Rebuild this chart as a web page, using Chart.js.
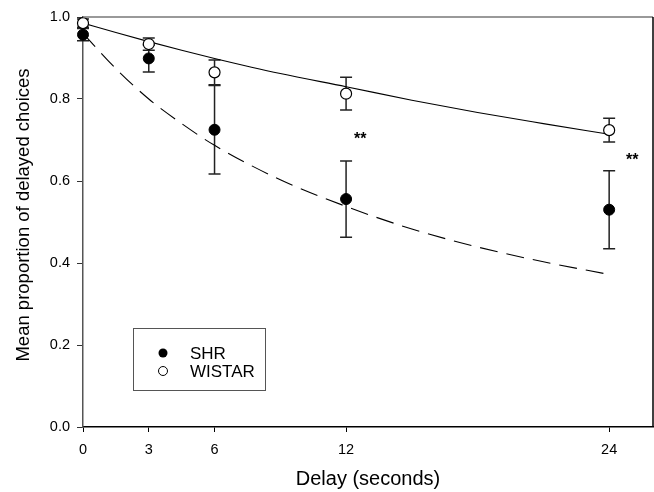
<!DOCTYPE html>
<html>
<head>
<meta charset="utf-8">
<script src="https://cdn.jsdelivr.net/npm/chart.js@4"></script>
<style>
  html, body { margin: 0; padding: 0; background: #fff; }
  #wrap { width: 654px; height: 492px; position: relative; }
</style>
</head>
<body>
<div id="wrap"><canvas id="chart"></canvas></div>
<script>
// --- DATOS ---
const delays = [0, 3, 6, 12, 24];
const shrMean = [0.957, 0.899, 0.725, 0.556, 0.530];
const shrSem = [0.015, 0.033, 0.108, 0.093, 0.095];
const wistarMean = [0.985, 0.934, 0.865, 0.813, 0.724];
const wistarSem = [0.010, 0.015, 0.030, 0.040, 0.029];

// fitted curves
const fitX = [0, 1.5, 3, 4.5, 6, 9, 12, 15, 18, 21, 24];
const shrFit = [0.960, 0.874, 0.800, 0.740, 0.687, 0.603, 0.538, 0.483, 0.439, 0.403, 0.372];
const wistarFit = [0.985, 0.962, 0.940, 0.919, 0.899, 0.862, 0.830, 0.797, 0.767, 0.740, 0.714];

const xTicks = [0, 3, 6, 12, 24];
const yTicks = [0, 0.2, 0.4, 0.6, 0.8, 1.0];

// significance marks
const sigX = [12.65, 25.05];
const sigY = [0.702, 0.649];
const sigText = ['**', '**'];

const legendNames = ['SHR', 'WISTAR'];
const yTitle = 'Mean proportion of delayed choices';

const FONT = '"Liberation Sans", Arial, sans-serif';

const toPts = (xs, ys) => xs.map((v, i) => ({ x: v, y: ys[i] }));

// --- EXTRAS: error bars, frame, asterisks, legend, y title ---
const extras = {
  id: 'extras',
  beforeDatasetsDraw(chart) {
    const { ctx, scales: { x, y } } = chart;
    ctx.save();
    ctx.strokeStyle = '#222';
    ctx.lineWidth = 1.5;
    [[shrMean, shrSem], [wistarMean, wistarSem]].forEach(([m, s]) => {
      delays.forEach((d, i) => {
        const px = x.getPixelForValue(d);
        const top = y.getPixelForValue(m[i] + s[i]);
        const bot = y.getPixelForValue(m[i] - s[i]);
        ctx.beginPath();
        ctx.moveTo(px, top); ctx.lineTo(px, bot);
        ctx.moveTo(px - 6, top); ctx.lineTo(px + 6, top);
        ctx.moveTo(px - 6, bot); ctx.lineTo(px + 6, bot);
        ctx.stroke();
      });
    });
    ctx.restore();
  },
  afterDraw(chart) {
    const { ctx, chartArea: a, scales: { x, y } } = chart;
    ctx.save();
    // top and right frame
    ctx.lineWidth = 1.5;
    ctx.strokeStyle = '#777';
    ctx.beginPath();
    ctx.moveTo(a.left, a.top); ctx.lineTo(a.right, a.top);
    ctx.stroke();
    ctx.strokeStyle = '#000';
    ctx.beginPath();
    ctx.moveTo(a.right, a.top); ctx.lineTo(a.right, a.bottom);
    ctx.stroke();

    // asterisks
    ctx.fillStyle = '#000';
    ctx.font = 'bold 16px ' + FONT;
    ctx.textAlign = 'center';
    ctx.textBaseline = 'middle';
    sigText.forEach((t, i) => {
      ctx.fillText(t, x.getPixelForValue(sigX[i]), y.getPixelForValue(sigY[i]));
    });

    // y title
    ctx.save();
    ctx.translate(24, 215);
    ctx.rotate(-Math.PI / 2);
    ctx.font = '18.5px ' + FONT;
    ctx.fillText(yTitle, 0, 0);
    ctx.restore();

    // legend box
    ctx.strokeStyle = '#555';
    ctx.lineWidth = 1;
    ctx.strokeRect(133.5, 328.5, 132, 62);
    ctx.font = '17px ' + FONT;
    ctx.textAlign = 'left';
    legendNames.forEach((name, i) => {
      const cy = 353 + i * 18;
      ctx.beginPath();
      ctx.arc(163, cy, 4.5, 0, Math.PI * 2);
      if (i === 0) {
        ctx.fillStyle = '#000';
        ctx.fill();
      } else {
        ctx.fillStyle = '#fff';
        ctx.fill();
        ctx.strokeStyle = '#000';
        ctx.lineWidth = 1;
        ctx.stroke();
      }
      ctx.fillStyle = '#000';
      ctx.fillText(name, 190, cy + 1);
    });
    ctx.restore();
  }
};

new Chart(document.getElementById('chart'), {
  type: 'scatter',
  data: {
    datasets: [
      {
        label: 'SHR',
        data: toPts(delays, shrMean),
        backgroundColor: '#000',
        borderColor: '#000',
        borderWidth: 1,
        pointRadius: 5.5,
        clip: false,
        order: 1
      },
      {
        label: 'WISTAR',
        data: toPts(delays, wistarMean),
        backgroundColor: '#fff',
        borderColor: '#000',
        borderWidth: 1.2,
        pointRadius: 5.5,
        clip: false,
        order: 1
      },
      {
        type: 'line',
        label: 'SHR fit',
        data: toPts(fitX, shrFit),
        borderColor: '#000',
        borderWidth: 1.1,
        borderDash: [18, 9],
        pointRadius: 0,
        fill: false,
        cubicInterpolationMode: 'monotone',
        order: 3
      },
      {
        type: 'line',
        label: 'WISTAR fit',
        data: toPts(fitX, wistarFit),
        borderColor: '#000',
        borderWidth: 1.1,
        pointRadius: 0,
        fill: false,
        cubicInterpolationMode: 'monotone',
        order: 3
      }
    ]
  },
  options: {
    responsive: true,
    maintainAspectRatio: false,
    animation: false,
    layout: { autoPadding: false, padding: { top: 17, right: 1, left: 0, bottom: 0 } },
    plugins: { legend: { display: false }, tooltip: { enabled: false } },
    scales: {
      x: {
        type: 'linear',
        min: 0,
        max: 26,
        afterBuildTicks: (s) => { s.ticks = xTicks.map(v => ({ value: v })); },
        afterFit: (s) => { s.height = 65; s.paddingRight = 0; s.paddingLeft = 0; },
        ticks: {
          color: '#000',
          font: { family: FONT, size: 14.5 },
          padding: 9,
          maxRotation: 0,
          autoSkip: false
        },
        grid: { drawOnChartArea: false, drawTicks: true, tickLength: 5, color: '#000' },
        border: { display: true, color: '#000', width: 1.5 },
        title: {
          display: true,
          text: 'Delay (seconds)',
          color: '#000',
          font: { family: FONT, size: 20 },
          padding: { top: 0, bottom: 1 }
        }
      },
      y: {
        min: 0,
        max: 1.0,
        afterBuildTicks: (s) => { s.ticks = yTicks.map(v => ({ value: v })); },
        afterFit: (s) => { s.width = 83; },
        ticks: {
          color: '#000',
          font: { family: FONT, size: 14.5 },
          padding: 7,
          callback: (v) => Number(v).toFixed(1)
        },
        grid: { drawOnChartArea: false, drawTicks: true, tickLength: 6, color: '#333' },
        border: { display: true, color: '#555', width: 1.5 },
        title: { display: false }
      }
    }
  },
  plugins: [extras]
});
</script>
</body>
</html>
